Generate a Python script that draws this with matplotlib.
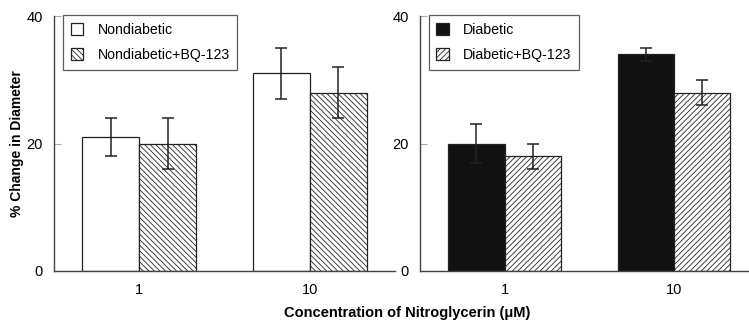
import numpy as np
import matplotlib.pyplot as plt

plt.rcParams["font.family"] = ["Liberation Sans", "DejaVu Sans"]
plt.rcParams["hatch.linewidth"] = 0.6
plt.rcParams["hatch.color"] = "#777777"

concentrations = ["1", "10"]

nondiabetic = [21, 31]
nondiabetic_err = [3, 4]
nondiabetic_bq = [20, 28]
nondiabetic_bq_err = [4, 4]

diabetic = [20, 34]
diabetic_err = [3, 1]
diabetic_bq = [18, 28]
diabetic_bq_err = [2, 2]

fig = plt.figure(figsize=(7.49, 3.29), dpi=100)
ax1 = fig.add_axes([54 / 749, 1 - 271 / 329, 341 / 749, 255 / 329])
ax2 = fig.add_axes([420 / 749, 1 - 271 / 329, 329 / 749, 255 / 329])

x = np.arange(len(concentrations))
w = 1 / 3
err_kw = dict(ecolor="#222222", elinewidth=1.1, capsize=4, capthick=1.1)


def draw_panel(ax, vals, errs, vals_bq, errs_bq, color, hatch, labels, xmax):
    ax.bar(x - w / 2, vals, w, yerr=errs, color=color, edgecolor="#222222",
           linewidth=0.9, error_kw=err_kw, label=labels[0])
    ax.bar(x + w / 2, vals_bq, w, yerr=errs_bq, color="white", hatch=hatch,
           edgecolor="#222222", linewidth=0.9, error_kw=err_kw, label=labels[1])
    ax.set_xlim(-0.5, xmax)
    ax.set_ylim(0, 40)
    ax.set_yticks([0, 20, 40])
    ax.set_xticks(x)
    ax.set_xticklabels(concentrations)
    ax.tick_params(axis="y", direction="in", length=5, color="#aaaaaa",
                   labelsize=10.5, pad=8)
    ax.tick_params(axis="x", length=0, labelsize=10.5, pad=9)
    for s in ["top", "right"]:
        ax.spines[s].set_visible(False)
    for s in ["left", "bottom"]:
        ax.spines[s].set_color("#444444")
        ax.spines[s].set_linewidth(1.0)
    leg = ax.legend(loc="upper left", bbox_to_anchor=(0.026, 1.005),
                    fontsize=10.2, frameon=True, fancybox=False,
                    handlelength=0.9, handleheight=0.9, handletextpad=1.0,
                    labelspacing=0.8, borderpad=0.55, borderaxespad=0)
    leg.get_frame().set_edgecolor("#333333")
    leg.get_frame().set_linewidth(0.9)


draw_panel(ax1, nondiabetic, nondiabetic_err, nondiabetic_bq, nondiabetic_bq_err,
           "white", "\\\\\\\\\\\\", ["Nondiabetic", "Nondiabetic+BQ-123"], 1.5)
draw_panel(ax2, diabetic, diabetic_err, diabetic_bq, diabetic_bq_err,
           "#111111", "//////", ["Diabetic", "Diabetic+BQ-123"], 1.443)

ax1.set_ylabel("% Change in Diameter", fontsize=10, fontweight="bold")
ax1.yaxis.set_label_coords(-0.088, 0.5)
fig.text(407 / 749, 1 - 313 / 329, "Concentration of Nitroglycerin (\u03bcM)",
         ha="center", va="center", fontsize=10.5, fontweight="bold")

fig.savefig("out.png", dpi=100)
